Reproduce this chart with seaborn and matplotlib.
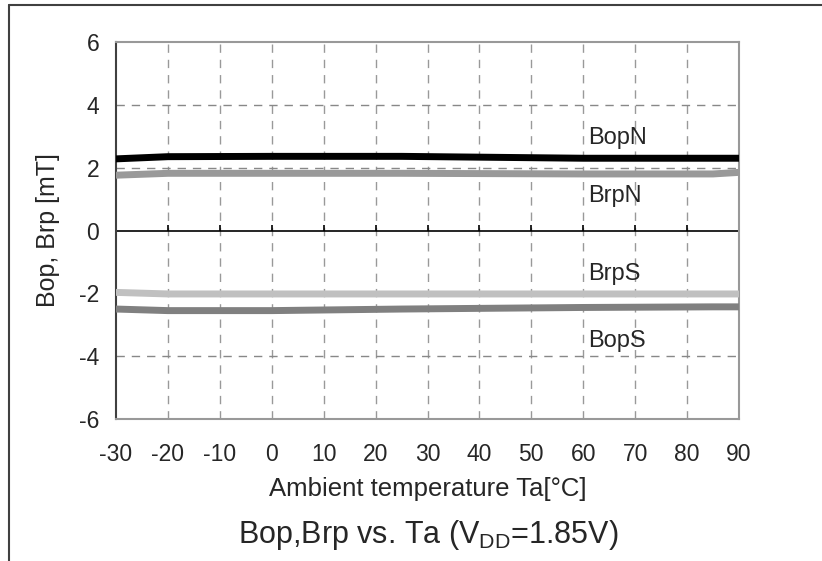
import matplotlib
matplotlib.use("Agg")
import matplotlib.pyplot as plt
import pandas as pd
import seaborn as sns
from matplotlib.lines import Line2D

# Data
temps = [-30, -20, 0, 25, 60, 85, 90]
bopn = [2.28, 2.35, 2.36, 2.36, 2.30, 2.30, 2.30]
brpn = [1.76, 1.82, 1.82, 1.82, 1.80, 1.80, 1.85]
brps = [-1.97, -2.02, -2.02, -2.02, -2.02, -2.02, -2.02]
bops = [-2.50, -2.55, -2.55, -2.50, -2.45, -2.43, -2.43]

series_names = ['BopN', 'BrpN', 'BrpS', 'BopS']
series_colors = ['#000000', '#999999', '#c0c0c0', '#808080']
label_y = [2.95, 1.10, -1.38, -3.52]
label_x = 61

x_ticks = list(range(-30, 100, 10))
y_ticks = [-6, -4, -2, 0, 2, 4, 6]

df = pd.DataFrame({'Ta': temps, 'BopN': bopn, 'BrpN': brpn,
                   'BrpS': brps, 'BopS': bops})
df_long = df.melt(id_vars='Ta', var_name='series', value_name='B')

sns.set_style('white')
plt.rcParams['font.family'] = ['Liberation Sans', 'DejaVu Sans']
plt.rcParams['axes.unicode_minus'] = False
plt.rcParams['mathtext.fontset'] = 'custom'
plt.rcParams['mathtext.rm'] = 'Liberation Sans'
plt.rcParams['mathtext.it'] = 'Liberation Sans'

fig = plt.figure(figsize=(8.22, 5.61), dpi=100)
ax = fig.add_axes([116 / 822, 1 - 419 / 561, (739 - 116) / 822, (419 - 42) / 561])

# Grid
for xv in x_ticks[1:-1]:
    ax.axvline(xv, color='#999999', lw=1, ls=(0, (6, 5)), zorder=1)
for yv in y_ticks[1:-1]:
    if yv != 0:
        ax.axhline(yv, color='#888888', lw=1, ls=(0, (6, 5)), zorder=1)
ax.axhline(0, color='black', lw=1.2, zorder=2)
ax.vlines(x_ticks[1:-1], 0, 0.17, color='black', lw=1.2, zorder=2)

sns.lineplot(data=df_long, x='Ta', y='B', hue='series', hue_order=series_names,
             palette=series_colors, linewidth=5, legend=False, ax=ax, zorder=3)

for name, ly in zip(series_names, label_y):
    ax.text(label_x, ly, name, fontsize=17, va='center', ha='left')

ax.set_xlim(-30, 90)
ax.set_ylim(-6, 6)
ax.set_xticks(x_ticks)
ax.set_yticks(y_ticks)
ax.tick_params(axis='x', length=0, labelsize=16.5, pad=17)
ax.tick_params(axis='y', direction='in', length=6, width=1.2, color='#404040',
               labelsize=16.5, pad=12)
for side in ['top', 'right', 'bottom']:
    ax.spines[side].set_color('#999999')
    ax.spines[side].set_linewidth(1.5)
ax.spines['left'].set_color('#404040')
ax.spines['left'].set_linewidth(1.5)

ax.set_xlabel('Ambient temperature Ta[°C]', fontsize=18.5, labelpad=8)
ax.set_ylabel('Bop, Brp [mT]', fontsize=18, labelpad=14)

fig.text(428 / 822, 1 - 535 / 561, 'Bop,Brp vs. Ta (V$_{\\rm DD}$=1.85V)',
         fontsize=22, ha='center', va='center')

# Outer frame (left and top edges)
fig.add_artist(Line2D([9 / 822, 9 / 822], [0, 1 - 5 / 561], color='#404040', lw=1.5))
fig.add_artist(Line2D([9 / 822, 1], [1 - 5 / 561, 1 - 5 / 561], color='#404040', lw=1.5))

fig.savefig('out.png', dpi=100)
